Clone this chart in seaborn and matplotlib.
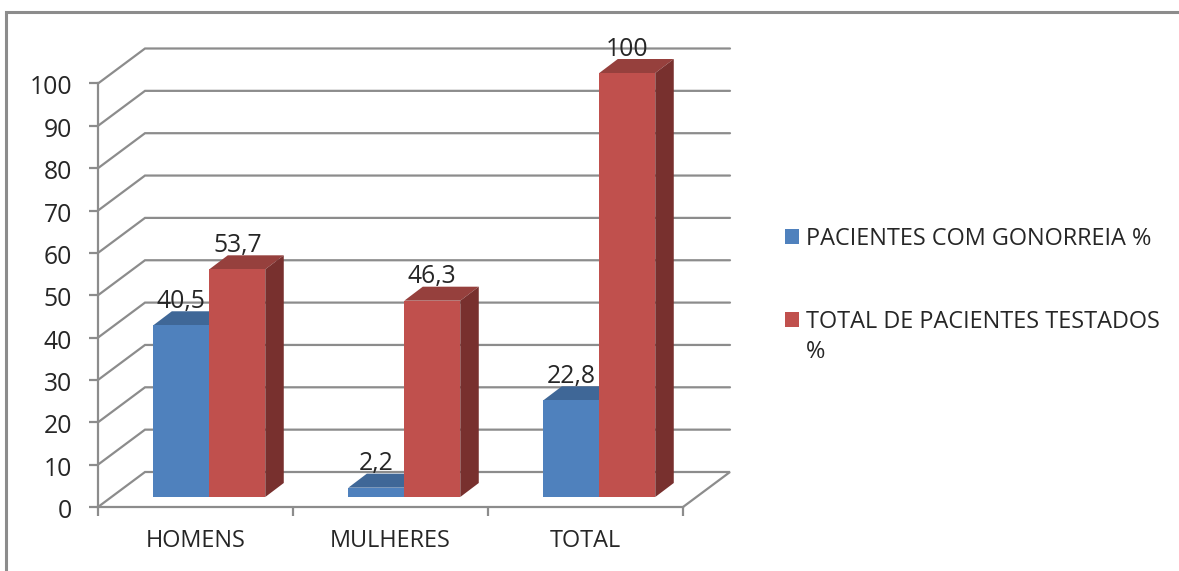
import matplotlib
matplotlib.use("Agg")
import matplotlib.pyplot as plt
from matplotlib.lines import Line2D
from matplotlib.patches import Polygon
from matplotlib.transforms import ScaledTranslation
import pandas as pd
import seaborn as sns

# Chart data
groups = ["HOMENS", "MULHERES", "TOTAL"]
with_gonorrhea = [40.5, 2.2, 22.8]
total_tested = [53.7, 46.3, 100]
series_names = ["PACIENTES COM GONORREIA %", "TOTAL DE PACIENTES TESTADOS %"]
value_ticks = list(range(0, 101, 10))

# Colours of the three visible faces of each bar, per series
FRONT = ["#4F81BD", "#C0504D"]
TOP = ["#3F6797", "#96403D"]
SIDE = ["#3A5F8C", "#78302E"]
GRID = "#8C8C8C"
INK = "#262626"
TEXT_SIZE = 16.9
NUMBER_SIZE = 17.8

W, H = 1179, 571


def rect(left, top, right, bottom):
    """Axes rectangle in figure fractions from pixel edges (origin top-left)."""
    return [left / W, 1 - bottom / H, (right - left) / W, (bottom - top) / H]


sns.set_theme(style="white")
plt.rcParams["font.family"] = ["Open Sans", "DejaVu Sans"]

fig = plt.figure(figsize=(W / 100, H / 100), dpi=100, facecolor="white")

# Outer chart frame: left and top edges only
fig.add_artist(Line2D([6 / W, 6 / W, 1], [0, 1 - 11.5 / H, 1 - 11.5 / H],
                      color=GRID, lw=2.2, solid_joinstyle="miter"))

# Front plane: carries the real axes, ticks and the wall lines
ax_axes = fig.add_axes(rect(98, 83.5, 683, 507))
ax_axes.set_xlim(-0.5, 2.5)
ax_axes.set_ylim(0, 100)
ax_axes.patch.set_visible(False)
for name, spine in ax_axes.spines.items():
    spine.set_visible(name in ("left", "bottom"))
    spine.set_color(GRID)
    spine.set_linewidth(1.6)
ax_axes.set_yticks(value_ticks)
ax_axes.set_xticks([-0.5, 0.5, 1.5, 2.5])
ax_axes.set_xticklabels([])
ax_axes.set_xticks([0, 1, 2], labels=groups, minor=True)
ax_axes.tick_params(axis="x", which="major", length=6.5, width=1.6, color=GRID, bottom=True)
ax_axes.tick_params(axis="x", which="minor", length=0, pad=16, labelsize=TEXT_SIZE,
                    labelcolor=INK)
ax_axes.tick_params(axis="y", length=6.5, width=1.6, color=GRID, left=True, pad=12,
                    labelsize=NUMBER_SIZE, labelcolor=INK)

# Nudge the value labels slightly below their ticks
nudge = ScaledTranslation(0, -1.5 / 100, fig.dpi_scale_trans)
for label in ax_axes.get_yticklabels():
    label.set_transform(label.get_transform() + nudge)

# Perspective offset from front plane to back wall, in axis units
wall_dx = 47 / 195
wall_dv = 35 / 4.235
for v in value_ticks:
    xs = [-0.5, -0.5 + wall_dx, 2.5 + wall_dx]
    ys = [v, v + wall_dv, v + wall_dv]
    if v == 0:
        xs.append(2.5)
        ys.append(0)
    ax_axes.plot(xs, ys, color=GRID, lw=1.6, clip_on=False, solid_joinstyle="miter")

# Bars sit on a plane slightly behind the front axes
ax_bars = fig.add_axes(rect(111.8, 73, 696.8, 497))
ax_bars.patch.set_visible(False)

table = pd.DataFrame({
    "grupo": groups * 2,
    "valor": with_gonorrhea + total_tested,
    "serie": [series_names[0]] * 3 + [series_names[1]] * 3,
})
sns.barplot(data=table, x="grupo", y="valor", hue="serie", order=groups,
            hue_order=series_names, palette=FRONT, saturation=1, width=0.574,
            linewidth=0, edgecolor="none", ax=ax_bars, zorder=3)
ax_bars.set_xlim(-0.5, 2.5)
ax_bars.set_ylim(0, 100)
ax_bars.set_axis_off()

# Extrude each bar: top and right faces come from the bar rectangle itself
bar_dx = 18.5 / 195
bar_dv = 14 / 4.24
for s, container in enumerate(ax_bars.containers):
    for patch in container.patches:
        x0, x1 = patch.get_x(), patch.get_x() + patch.get_width()
        v = patch.get_height()
        z = 2 * s + 2
        patch.set_zorder(z + 0.5)
        ax_bars.add_patch(Polygon(
            [(x0, v), (x1, v), (x1 + bar_dx, v + bar_dv), (x0 + bar_dx, v + bar_dv)],
            closed=True, facecolor=TOP[s], edgecolor="none", clip_on=False, zorder=z))
        ax_bars.add_patch(Polygon(
            [(x1, 0), (x1 + bar_dx, bar_dv), (x1 + bar_dx, v + bar_dv), (x1, v)],
            closed=True, facecolor=SIDE[s], edgecolor="none", clip_on=False, zorder=z))
        ax_bars.annotate(f"{v:g}".replace(".", ","), xy=((x0 + x1) / 2, v),
                         xytext=(0, 24 * 0.72), textcoords="offset points",
                         ha="center", va="center", fontsize=NUMBER_SIZE, color=INK,
                         annotation_clip=False, zorder=20)

# Legend to the right; the long entry wraps its last sign onto a second line
handles, labels = ax_bars.get_legend_handles_labels()
if ax_bars.get_legend():
    ax_bars.get_legend().remove()
labels[1] = labels[1].rsplit(" ", 1)[0]
fig.legend(handles, labels, loc="upper left", bbox_to_anchor=(785 / W, 1 - 227 / H),
           bbox_transform=fig.transFigure, frameon=False, fontsize=TEXT_SIZE,
           labelcolor=INK, handlelength=0.6, handleheight=0.6, handletextpad=0.3,
           labelspacing=2.52, borderpad=0, borderaxespad=0)
fig.text(806 / W, 1 - 352 / H, "%", ha="left", va="center", fontsize=TEXT_SIZE, color=INK)

fig.savefig("out.png", dpi=100, facecolor="white")
